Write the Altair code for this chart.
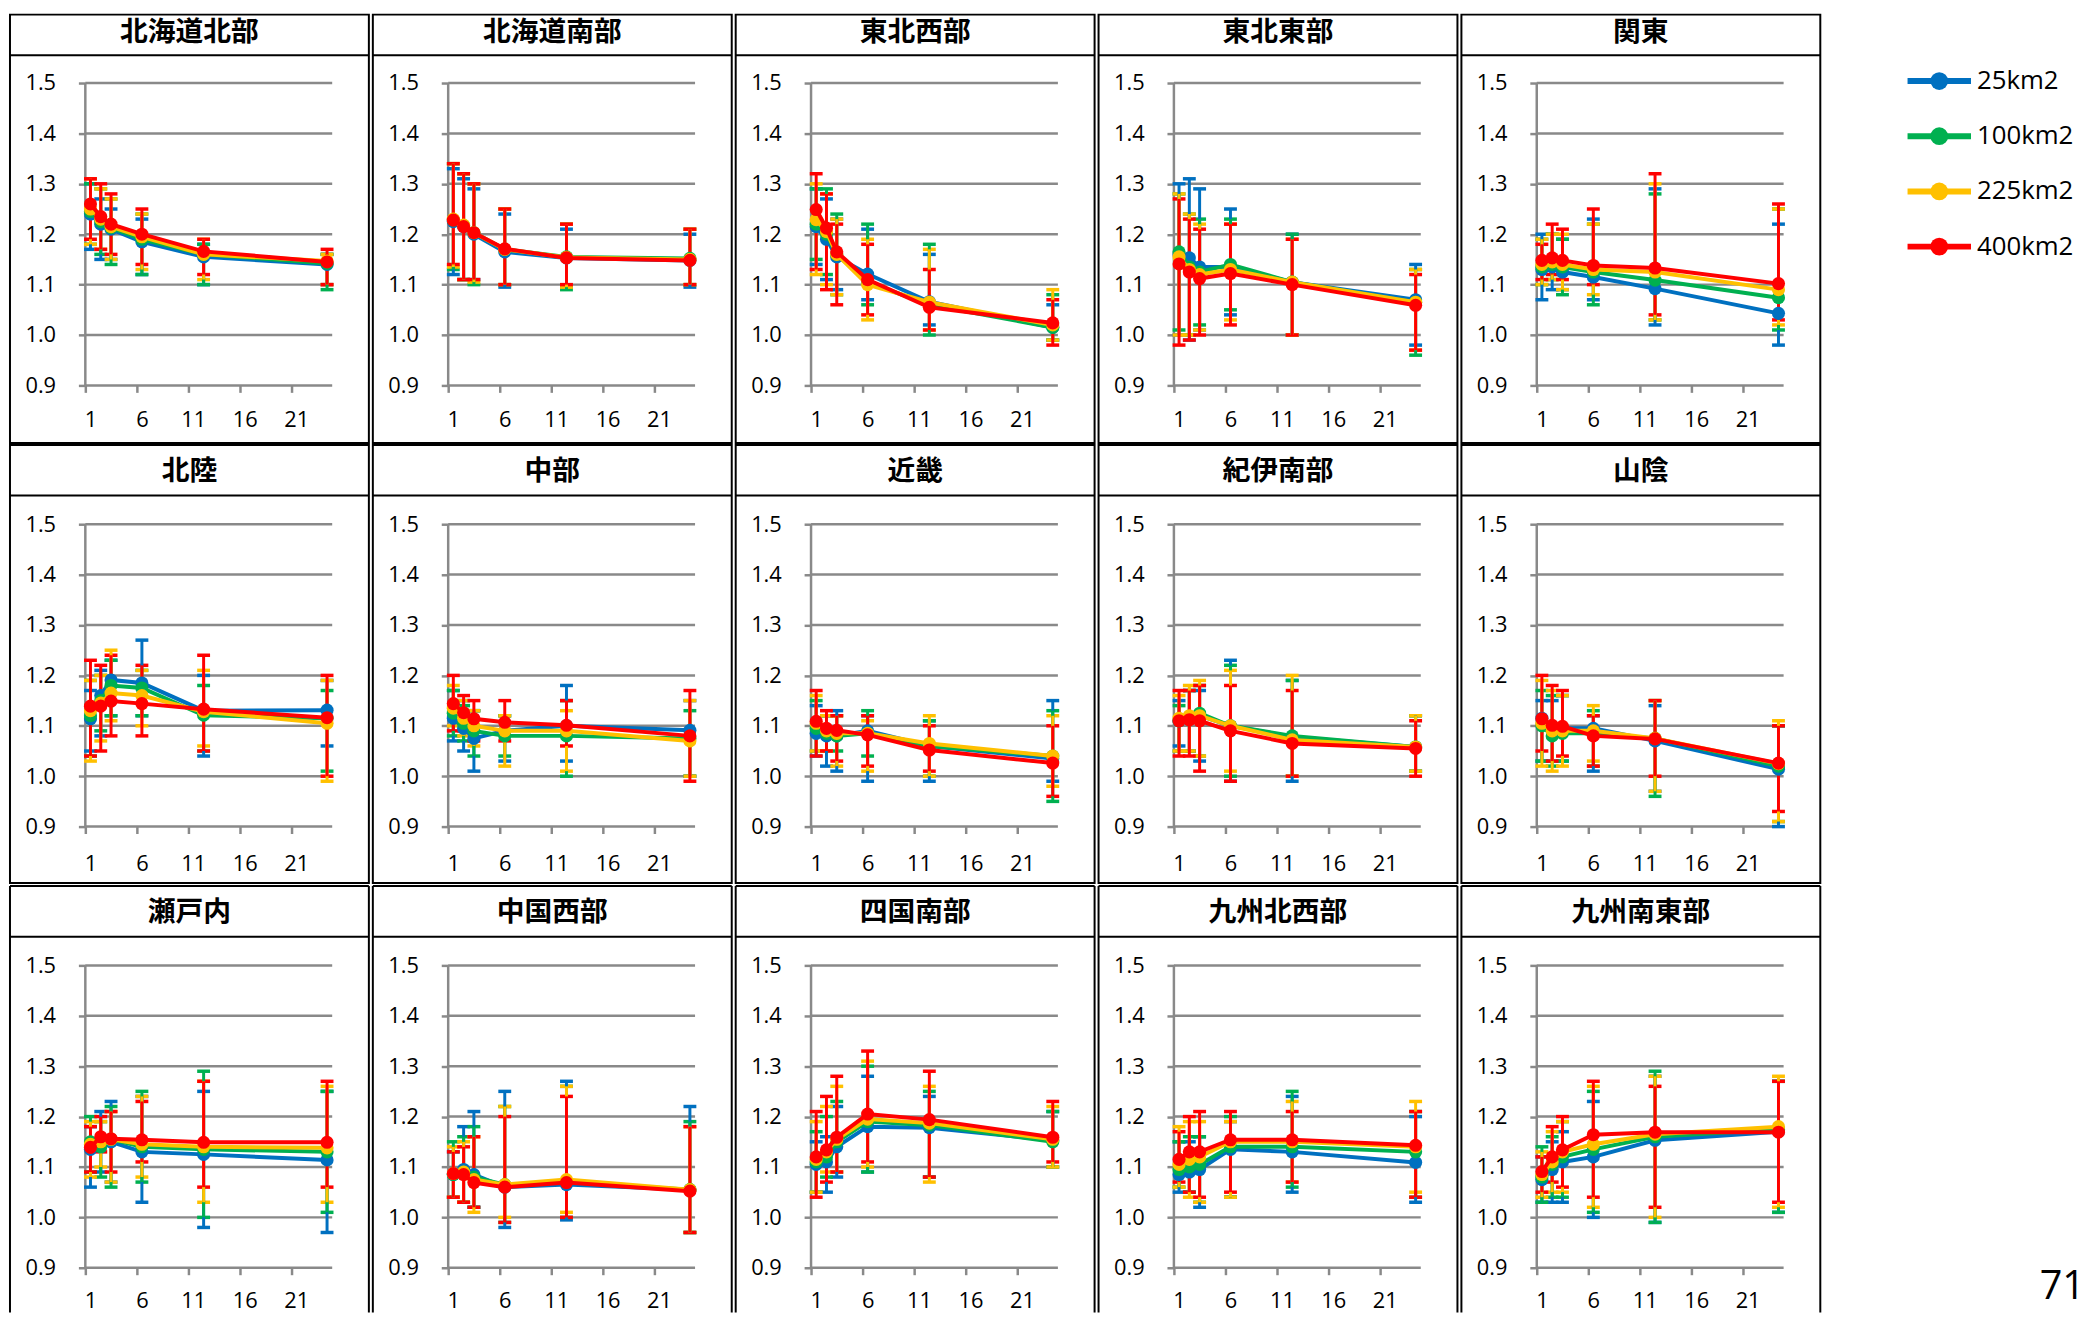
import altair as alt
import pandas as pd

# ---------------- data ----------------
REGIONS = ["北海道北部", "北海道南部", "東北西部", "東北東部", "関東",
           "北陸", "中部", "近畿", "紀伊南部", "山陰",
           "瀬戸内", "中国西部", "四国南部", "九州北西部", "九州南東部"]
DURATIONS = [1, 2, 3, 6, 12, 24]
SERIES = ["25km2", "100km2", "225km2", "400km2"]
COLORS = ["#0070C0", "#00B050", "#FFC000", "#FF0000"]
Y_TICKS = [0.9, 1.0, 1.1, 1.2, 1.3, 1.4, 1.5]
X_LABELS = [1, 6, 11, 16, 21]
PAGE_NUMBER = "71"

MEAN_25 = [
    [1.240, 1.220, 1.210, 1.185, 1.155, 1.140],
    [1.225, 1.215, 1.200, 1.165, 1.153, 1.148],
    [1.215, 1.190, 1.155, 1.121, 1.066, 1.015],
    [1.160, 1.153, 1.135, 1.135, 1.105, 1.070],
    [1.130, 1.135, 1.125, 1.115, 1.092, 1.043],
    [1.114, 1.160, 1.191, 1.185, 1.130, 1.131],
    [1.115, 1.095, 1.075, 1.090, 1.100, 1.091],
    [1.085, 1.080, 1.080, 1.090, 1.060, 1.035],
    [1.110, 1.115, 1.120, 1.100, 1.078, 1.058],
    [1.115, 1.095, 1.095, 1.095, 1.070, 1.014],
    [1.135, 1.140, 1.150, 1.130, 1.125, 1.114],
    [1.085, 1.095, 1.085, 1.060, 1.065, 1.055],
    [1.105, 1.110, 1.140, 1.180, 1.178, 1.153],
    [1.085, 1.090, 1.095, 1.135, 1.130, 1.109],
    [1.075, 1.095, 1.110, 1.120, 1.153, 1.170],
]
LOW_25 = [
    [1.17, 1.15, 1.15, 1.12, 1.10, 1.10],
    [1.12, 1.11, 1.11, 1.095, 1.095, 1.095],
    [1.14, 1.11, 1.09, 1.07, 1.02, 0.99],
    [1.00, 0.99, 1.01, 1.04, 1.00, 0.98],
    [1.07, 1.09, 1.09, 1.07, 1.02, 0.98],
    [1.05, 1.08, 1.12, 1.12, 1.04, 1.06],
    [1.07, 1.05, 1.01, 1.03, 1.03, 1.00],
    [1.04, 1.02, 1.01, 0.99, 0.99, 0.99],
    [1.06, 1.05, 1.03, 0.99, 0.99, 1.01],
    [1.03, 1.03, 1.03, 1.01, 0.97, 0.90],
    [1.06, 1.09, 1.07, 1.03, 0.98, 0.97],
    [1.04, 1.03, 1.02, 0.98, 0.995, 0.97],
    [1.05, 1.05, 1.08, 1.09, 1.08, 1.10],
    [1.05, 1.05, 1.02, 1.04, 1.05, 1.03],
    [1.03, 1.03, 1.03, 1.00, 0.99, 1.01],
]
HIGH_25 = [
    [1.30, 1.27, 1.25, 1.23, 1.18, 1.16],
    [1.33, 1.31, 1.29, 1.24, 1.21, 1.20],
    [1.29, 1.27, 1.23, 1.21, 1.16, 1.06],
    [1.30, 1.31, 1.29, 1.25, 1.20, 1.14],
    [1.20, 1.20, 1.19, 1.23, 1.29, 1.22],
    [1.17, 1.21, 1.23, 1.27, 1.20, 1.19],
    [1.17, 1.15, 1.13, 1.12, 1.18, 1.15],
    [1.14, 1.12, 1.13, 1.12, 1.11, 1.15],
    [1.15, 1.17, 1.17, 1.23, 1.19, 1.12],
    [1.15, 1.15, 1.16, 1.12, 1.14, 1.10],
    [1.18, 1.21, 1.23, 1.24, 1.25, 1.25],
    [1.13, 1.18, 1.21, 1.25, 1.27, 1.22],
    [1.15, 1.16, 1.22, 1.28, 1.24, 1.21],
    [1.15, 1.15, 1.16, 1.19, 1.24, 1.20],
    [1.12, 1.15, 1.17, 1.23, 1.28, 1.27],
]

MEAN_100 = [
    [1.245, 1.225, 1.213, 1.190, 1.160, 1.142],
    [1.228, 1.217, 1.203, 1.170, 1.155, 1.152],
    [1.220, 1.200, 1.160, 1.105, 1.060, 1.015],
    [1.165, 1.135, 1.125, 1.140, 1.105, 1.065],
    [1.135, 1.140, 1.135, 1.125, 1.109, 1.074],
    [1.120, 1.150, 1.180, 1.175, 1.121, 1.115],
    [1.125, 1.105, 1.090, 1.080, 1.080, 1.075],
    [1.095, 1.085, 1.080, 1.085, 1.060, 1.040],
    [1.110, 1.115, 1.125, 1.100, 1.080, 1.058],
    [1.100, 1.080, 1.085, 1.085, 1.075, 1.020],
    [1.150, 1.140, 1.155, 1.140, 1.135, 1.130],
    [1.085, 1.090, 1.080, 1.065, 1.070, 1.055],
    [1.110, 1.120, 1.150, 1.190, 1.183, 1.150],
    [1.095, 1.100, 1.105, 1.140, 1.140, 1.130],
    [1.080, 1.105, 1.120, 1.135, 1.160, 1.175],
]
LOW_100 = [
    [1.18, 1.16, 1.14, 1.12, 1.10, 1.09],
    [1.13, 1.11, 1.10, 1.10, 1.09, 1.10],
    [1.15, 1.12, 1.08, 1.06, 1.00, 0.99],
    [1.01, 1.00, 1.02, 1.05, 1.00, 0.96],
    [1.10, 1.11, 1.08, 1.06, 1.03, 1.01],
    [1.04, 1.09, 1.12, 1.12, 1.05, 1.01],
    [1.08, 1.07, 1.04, 1.04, 1.00, 1.00],
    [1.05, 1.05, 1.05, 1.04, 1.00, 0.95],
    [1.05, 1.05, 1.04, 1.00, 1.00, 1.01],
    [1.03, 1.02, 1.03, 1.02, 0.96, 0.91],
    [1.09, 1.08, 1.06, 1.07, 1.00, 1.01],
    [1.04, 1.03, 1.02, 0.99, 1.00, 0.97],
    [1.05, 1.08, 1.09, 1.09, 1.08, 1.10],
    [1.06, 1.05, 1.03, 1.04, 1.06, 1.04],
    [1.03, 1.04, 1.04, 1.01, 0.99, 1.01],
]
HIGH_100 = [
    [1.30, 1.29, 1.27, 1.24, 1.18, 1.16],
    [1.34, 1.32, 1.30, 1.25, 1.22, 1.21],
    [1.29, 1.29, 1.24, 1.22, 1.18, 1.08],
    [1.28, 1.24, 1.23, 1.23, 1.20, 1.13],
    [1.19, 1.20, 1.19, 1.22, 1.28, 1.25],
    [1.19, 1.20, 1.23, 1.21, 1.18, 1.17],
    [1.17, 1.14, 1.13, 1.12, 1.15, 1.13],
    [1.15, 1.12, 1.12, 1.13, 1.11, 1.13],
    [1.14, 1.17, 1.18, 1.22, 1.19, 1.12],
    [1.17, 1.16, 1.16, 1.13, 1.15, 1.10],
    [1.20, 1.19, 1.22, 1.25, 1.29, 1.25],
    [1.15, 1.16, 1.18, 1.22, 1.26, 1.19],
    [1.17, 1.20, 1.23, 1.30, 1.25, 1.21],
    [1.15, 1.16, 1.16, 1.20, 1.25, 1.21],
    [1.14, 1.16, 1.19, 1.25, 1.29, 1.27],
]

MEAN_225 = [
    [1.250, 1.230, 1.215, 1.195, 1.160, 1.147],
    [1.230, 1.218, 1.203, 1.170, 1.154, 1.150],
    [1.229, 1.205, 1.160, 1.100, 1.065, 1.020],
    [1.155, 1.130, 1.120, 1.130, 1.105, 1.065],
    [1.140, 1.145, 1.140, 1.130, 1.125, 1.090],
    [1.130, 1.145, 1.165, 1.160, 1.128, 1.105],
    [1.135, 1.115, 1.100, 1.090, 1.090, 1.070],
    [1.105, 1.090, 1.085, 1.085, 1.065, 1.040],
    [1.115, 1.120, 1.120, 1.100, 1.072, 1.058],
    [1.105, 1.090, 1.090, 1.090, 1.075, 1.025],
    [1.145, 1.150, 1.155, 1.145, 1.140, 1.138],
    [1.087, 1.090, 1.075, 1.065, 1.075, 1.055],
    [1.115, 1.130, 1.155, 1.195, 1.187, 1.155],
    [1.105, 1.115, 1.120, 1.150, 1.150, 1.140],
    [1.085, 1.110, 1.130, 1.145, 1.165, 1.180],
]
LOW_225 = [
    [1.18, 1.17, 1.15, 1.13, 1.11, 1.10],
    [1.135, 1.11, 1.105, 1.10, 1.095, 1.10],
    [1.12, 1.10, 1.08, 1.03, 1.01, 0.99],
    [1.00, 1.00, 1.01, 1.03, 1.00, 0.97],
    [1.10, 1.11, 1.09, 1.08, 1.03, 1.02],
    [1.03, 1.07, 1.11, 1.10, 1.06, 0.99],
    [1.10, 1.08, 1.06, 1.02, 1.01, 1.00],
    [1.05, 1.05, 1.02, 1.01, 1.00, 0.98],
    [1.05, 1.05, 1.04, 1.01, 1.00, 1.01],
    [1.02, 1.01, 1.02, 1.03, 0.97, 0.91],
    [1.08, 1.10, 1.07, 1.08, 1.03, 1.03],
    [1.04, 1.03, 1.01, 1.00, 1.01, 0.97],
    [1.05, 1.09, 1.09, 1.10, 1.07, 1.10],
    [1.06, 1.04, 1.03, 1.04, 1.07, 1.05],
    [1.04, 1.05, 1.05, 1.02, 1.00, 1.02],
]
HIGH_225 = [
    [1.31, 1.29, 1.27, 1.24, 1.19, 1.16],
    [1.34, 1.32, 1.30, 1.25, 1.22, 1.21],
    [1.30, 1.28, 1.23, 1.19, 1.17, 1.09],
    [1.28, 1.24, 1.22, 1.22, 1.19, 1.13],
    [1.19, 1.20, 1.20, 1.22, 1.30, 1.25],
    [1.19, 1.20, 1.25, 1.21, 1.21, 1.19],
    [1.18, 1.15, 1.13, 1.12, 1.13, 1.15],
    [1.16, 1.12, 1.12, 1.11, 1.12, 1.12],
    [1.16, 1.18, 1.19, 1.21, 1.20, 1.12],
    [1.19, 1.17, 1.16, 1.14, 1.15, 1.11],
    [1.19, 1.19, 1.21, 1.24, 1.27, 1.26],
    [1.14, 1.15, 1.16, 1.22, 1.26, 1.18],
    [1.19, 1.22, 1.26, 1.31, 1.26, 1.22],
    [1.18, 1.19, 1.19, 1.19, 1.23, 1.23],
    [1.13, 1.17, 1.19, 1.26, 1.28, 1.28],
]

MEAN_400 = [
    [1.260, 1.235, 1.220, 1.200, 1.166, 1.145],
    [1.228, 1.215, 1.203, 1.171, 1.153, 1.148],
    [1.249, 1.212, 1.165, 1.110, 1.055, 1.024],
    [1.141, 1.125, 1.112, 1.122, 1.100, 1.059],
    [1.148, 1.153, 1.148, 1.138, 1.133, 1.102],
    [1.139, 1.139, 1.149, 1.144, 1.133, 1.116],
    [1.144, 1.126, 1.114, 1.107, 1.101, 1.080],
    [1.109, 1.095, 1.091, 1.082, 1.052, 1.026],
    [1.110, 1.112, 1.110, 1.090, 1.065, 1.055],
    [1.114, 1.101, 1.099, 1.080, 1.074, 1.026],
    [1.139, 1.160, 1.156, 1.154, 1.149, 1.149],
    [1.087, 1.085, 1.069, 1.060, 1.069, 1.052],
    [1.120, 1.134, 1.159, 1.205, 1.194, 1.159],
    [1.115, 1.130, 1.130, 1.154, 1.154, 1.143],
    [1.091, 1.120, 1.134, 1.164, 1.169, 1.169],
]
LOW_400 = [
    [1.19, 1.17, 1.16, 1.14, 1.12, 1.10],
    [1.14, 1.11, 1.11, 1.10, 1.10, 1.10],
    [1.13, 1.09, 1.06, 1.04, 1.01, 0.98],
    [0.98, 0.99, 1.00, 1.02, 1.00, 0.97],
    [1.11, 1.12, 1.11, 1.10, 1.04, 1.03],
    [1.04, 1.05, 1.08, 1.08, 1.05, 1.00],
    [1.09, 1.09, 1.07, 1.07, 1.06, 0.99],
    [1.04, 1.05, 1.03, 1.02, 1.01, 0.96],
    [1.04, 1.04, 1.01, 0.99, 1.00, 1.00],
    [1.05, 1.03, 1.04, 1.02, 1.00, 0.93],
    [1.09, 1.13, 1.09, 1.11, 1.06, 1.06],
    [1.04, 1.03, 1.02, 0.99, 1.00, 0.97],
    [1.04, 1.07, 1.09, 1.11, 1.08, 1.11],
    [1.07, 1.05, 1.04, 1.05, 1.07, 1.04],
    [1.05, 1.07, 1.06, 1.04, 1.02, 1.03],
]
HIGH_400 = [
    [1.31, 1.30, 1.28, 1.25, 1.19, 1.17],
    [1.34, 1.32, 1.30, 1.25, 1.22, 1.21],
    [1.32, 1.28, 1.22, 1.18, 1.13, 1.07],
    [1.27, 1.23, 1.21, 1.22, 1.19, 1.12],
    [1.18, 1.22, 1.21, 1.25, 1.32, 1.26],
    [1.23, 1.22, 1.24, 1.22, 1.24, 1.20],
    [1.20, 1.16, 1.15, 1.15, 1.15, 1.17],
    [1.17, 1.13, 1.12, 1.12, 1.10, 1.10],
    [1.17, 1.17, 1.18, 1.18, 1.17, 1.11],
    [1.20, 1.18, 1.17, 1.12, 1.15, 1.10],
    [1.18, 1.20, 1.21, 1.23, 1.27, 1.27],
    [1.13, 1.14, 1.16, 1.20, 1.24, 1.18],
    [1.21, 1.24, 1.28, 1.33, 1.29, 1.23],
    [1.17, 1.20, 1.21, 1.21, 1.21, 1.21],
    [1.12, 1.18, 1.20, 1.27, 1.26, 1.27],
]

SERIES_DATA = {
    "25km2": (MEAN_25, LOW_25, HIGH_25),
    "100km2": (MEAN_100, LOW_100, HIGH_100),
    "225km2": (MEAN_225, LOW_225, HIGH_225),
    "400km2": (MEAN_400, LOW_400, HIGH_400),
}

rows = []
for s in SERIES:
    mean, low, high = SERIES_DATA[s]
    for r, region in enumerate(REGIONS):
        for i, d in enumerate(DURATIONS):
            rows.append({"region": region, "series": s, "dur": d,
                         "mean": mean[r][i], "lo": low[r][i], "hi": high[r][i]})
df = pd.DataFrame(rows)
grid_df = pd.DataFrame({"g": Y_TICKS})
region_df = pd.DataFrame({"region": REGIONS})
legend_df = pd.DataFrame({"series": SERIES})
page_df = pd.DataFrame({"p": [PAGE_NUMBER]})

# ---------------- layout ----------------
CELL_W = 362
PLOT_L = 76
PLOT_W = 249
PLOT_H = 305
UNIT = PLOT_W / 24.0
X_MIN = 0.5 - PLOT_L / UNIT
X_MAX = 0.5 + (CELL_W - PLOT_L) / UNIT
YPX = PLOT_H / 0.6
ROW_H = [432, 442, 430]
ROW_TOP = [69, 80, 80]
ROW_SEP = [41, 51, 51]
ROW_TITLE_Y = [19, 27, 27]
ROW_XPAD = [17, 20, 16]
GRAY = "#898989"
NUM_FONT = "Open Sans"
CJK_FONT = "Noto Sans CJK JP"
SIDE_W = 264

color = alt.Color("series:N", scale=alt.Scale(domain=SERIES, range=COLORS), legend=None)


def make_cell(idx):
    name = REGIONS[idx]
    r = idx // 5
    h, top, sep = ROW_H[r], ROW_TOP[r], ROW_SEP[r]
    last_row = r == len(ROW_H) - 1
    bottom_gap = h - top - PLOT_H
    xs = alt.Scale(domain=[X_MIN, X_MAX], nice=False, zero=False)
    ys = alt.Scale(domain=[0.9 - bottom_gap / YPX, 1.5 + top / YPX], nice=False, zero=False)
    xaxis = alt.Axis(values=X_LABELS, format="d", title=None, offset=-bottom_gap,
                     domain=False, grid=False, ticks=True, tickSize=7,
                     tickColor=GRAY, tickWidth=2.5, tickOffset=-UNIT / 2,
                     labelOffset=UNIT / 2, labelFont=NUM_FONT, labelFontSize=22,
                     labelColor="black", labelPadding=ROW_XPAD[r], labelFlush=False)
    yaxis = alt.Axis(values=Y_TICKS, format=".1f", title=None, offset=-PLOT_L,
                     domain=False, grid=False, ticks=True, tickSize=7,
                     tickColor=GRAY, tickWidth=2.5, labelFont=NUM_FONT,
                     labelFontSize=22, labelColor="black", labelPadding=23,
                     labelFlush=False)
    X = alt.X("dur:Q", scale=xs, axis=xaxis)

    reg = alt.Chart(region_df).transform_filter(alt.datum.region == name)
    base = alt.Chart(df).transform_filter(alt.datum.region == name)

    grid = alt.Chart(grid_df).mark_rule(color=GRAY, strokeWidth=2.5).encode(
        y=alt.Y("g:Q", scale=ys, axis=yaxis),
        x=alt.XDatum(0.5, scale=xs, axis=xaxis),
        x2=alt.X2Datum(24.5),
    )
    vline = reg.mark_rule(color=GRAY, strokeWidth=2.5).encode(
        x=alt.XDatum(0.5, scale=xs, axis=xaxis),
        y=alt.YDatum(0.9, scale=ys, axis=yaxis),
        y2=alt.Y2Datum(1.5),
    )
    caps = base.transform_fold(["lo", "hi"], as_=["end", "cv"]).mark_tick(
        orient="horizontal", size=13, thickness=3.5, opacity=1
    ).encode(x=X, y=alt.Y("cv:Q", scale=ys, axis=yaxis), color=color)
    bars = base.mark_rule(strokeWidth=3).encode(
        x=X, y=alt.Y("lo:Q", scale=ys, axis=yaxis), y2="hi:Q", color=color
    )
    layers = [grid, vline, caps, bars]
    for s in SERIES:
        sb = base.transform_filter(alt.datum.series == s)
        layers.append(sb.mark_line(strokeWidth=4).encode(
            x=X, y=alt.Y("mean:Q", scale=ys, axis=yaxis), color=color))
        layers.append(sb.mark_circle(size=175, opacity=1).encode(
            x=X, y=alt.Y("mean:Q", scale=ys, axis=yaxis), color=color))
    sep_rule = reg.mark_rule(color="black", strokeWidth=2).encode(
        x=alt.value(0), x2=alt.value(CELL_W), y=alt.value(sep))
    title = reg.mark_text(font=CJK_FONT, fontSize=28, fontWeight="bold", color="black",
                          align="center", baseline="middle").encode(
        text="region:N", x=alt.value(CELL_W / 2), y=alt.value(ROW_TITLE_Y[r]))
    layers += [sep_rule, title]
    if last_row:
        # the slide cuts this row off: frame drawn on three sides only
        layers.append(reg.mark_rule(color="black", strokeWidth=2).encode(
            x=alt.value(0), x2=alt.value(CELL_W), y=alt.value(0)))
        layers.append(reg.mark_rule(color="black", strokeWidth=2).encode(
            x=alt.value(0), y=alt.value(0), y2=alt.value(h)))
        layers.append(reg.mark_rule(color="black", strokeWidth=2).encode(
            x=alt.value(CELL_W), y=alt.value(0), y2=alt.value(h)))
        view = alt.ViewBackground(stroke="transparent")
    else:
        view = alt.ViewBackground(stroke="black", strokeWidth=2)
    return alt.layer(*layers).properties(width=CELL_W, height=h, view=view)


cells = [make_cell(i) for i in range(len(REGIONS))]
panel_grid = alt.concat(*cells, columns=5, spacing=0)

TOTAL_H = sum(ROW_H)
ly = alt.Y("series:N", scale=alt.Scale(type="point", domain=SERIES, range=[67, 234], padding=0), axis=None)
leg_line = alt.Chart(legend_df).mark_rule(strokeWidth=6).encode(
    y=ly, x=alt.value(85), x2=alt.value(149), color=color)
leg_pt = alt.Chart(legend_df).mark_circle(size=320, opacity=1).encode(
    y=ly, x=alt.value(117), color=color)
leg_txt = alt.Chart(legend_df).mark_text(align="left", baseline="middle", font=NUM_FONT,
                                         fontSize=26, color="black").encode(
    y=ly, x=alt.value(155), text="series:N")
page_txt = alt.Chart(page_df).mark_text(align="right", baseline="alphabetic", font=NUM_FONT,
                                        fontSize=40, color="black").encode(
    text="p:N", x=alt.value(SIDE_W), y=alt.value(1296))
side = alt.layer(leg_line, leg_pt, leg_txt, page_txt).properties(
    width=SIDE_W, height=TOTAL_H, view=alt.ViewBackground(stroke="transparent"))

chart = alt.hconcat(panel_grid, side, spacing=0).properties(
    padding=0, background="white").configure_view(stroke="transparent")

chart.save("out.html", embed_options={"renderer": "svg", "actions": False})
